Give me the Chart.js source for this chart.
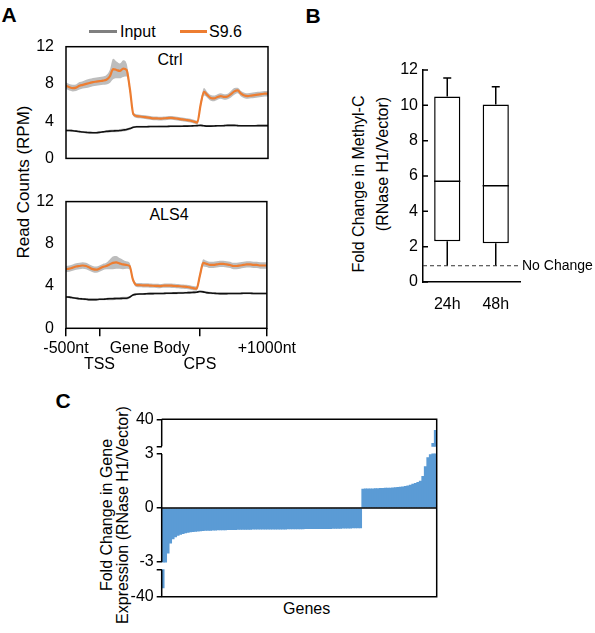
<!DOCTYPE html>
<html><head><meta charset="utf-8">
<script src="https://cdn.jsdelivr.net/npm/chart.js@4.4.1/dist/chart.umd.min.js"></script>
<style>
body{margin:0;width:595px;height:633px;background:#fff;position:relative;overflow:hidden;font-family:"Liberation Sans",Arial,sans-serif;color:#000}
canvas{position:absolute}
.t{position:absolute;white-space:nowrap;line-height:1;transform:translate(-50%,-50%)}
.l{position:absolute;white-space:nowrap;line-height:1;transform:translateY(-50%)}
.rot{position:absolute;white-space:nowrap;line-height:1;transform:translate(-50%,-50%) rotate(-90deg)}
.pl{position:absolute;font-weight:bold;font-size:21px;line-height:1;transform:translate(-50%,-50%)}
.lg{position:absolute;height:3px}
</style></head><body>

<div class="pl" style="left:9px;top:14px">A</div>
<div class="pl" style="left:313px;top:15px">B</div>
<div class="pl" style="left:63px;top:400px">C</div>

<div class="lg" style="left:89px;top:30px;width:28px;background:#808080"></div>
<div class="l" style="left:120px;top:31.5px;font-size:16px">Input</div>
<div class="lg" style="left:180px;top:30px;width:27px;background:#ED7D31"></div>
<div class="l" style="left:209px;top:31.5px;font-size:16px">S9.6</div>

<div class="t" style="left:170px;top:60px;font-size:16px">Ctrl</div>
<div class="t" style="left:169px;top:215px;font-size:16px">ALS4</div>
<div class="rot" style="left:23px;top:181.5px;font-size:17px">Read Counts (RPM)</div>

<div class="rot" style="left:359px;top:184px;font-size:16px">Fold Change in Methyl-C</div>
<div class="rot" style="left:382.5px;top:164px;font-size:16px">(RNase H1/Vector)</div>

<div class="rot" style="left:106.5px;top:515px;font-size:16px">Fold Change in Gene</div>
<div class="rot" style="left:122.5px;top:515px;font-size:16px">Expression (RNase H1/Vector)</div>
<div class="t" style="left:306.7px;top:609px;font-size:16px">Genes</div>

<canvas id="a1" width="300" height="180" style="left:0;top:0;width:300px;height:180px"></canvas>
<canvas id="a2" width="300" height="200" style="left:0;top:180px;width:300px;height:200px"></canvas>
<canvas id="b" width="305" height="330" style="left:290px;top:0;width:305px;height:330px"></canvas>
<canvas id="c" width="450" height="253" style="left:0;top:380px;width:450px;height:253px"></canvas>

<script>
// ---------- Panel A data (profile bins: -500nt .. TSS .. gene body .. CPS .. +1000nt) ----------
const A_TICK_POS = [0, 10, 25, 40, 60];
const A_TICK_LBL = ['-500nt', ['', 'TSS'], 'Gene Body', ['', 'CPS'], '+1000nt'];
const A_Y_TICKS = [0, 4, 8, 12];

const CTRL_S96 = [7.8,7.65,7.55,7.6,7.8,7.9,8.0,8.1,8.2,8.25,
  8.3,8.35,8.45,8.8,9.6,9.5,9.4,9.65,9.5,7.4,
  4.75,4.55,4.5,4.45,4.4,4.35,4.3,4.3,4.27,4.3,
  4.33,4.35,4.33,4.28,4.22,4.17,4.12,4.05,3.95,3.85,
  5.8,7.15,6.8,6.5,6.45,6.6,6.7,6.6,6.65,6.9,
  7.2,7.3,6.95,6.75,6.7,6.75,6.8,6.85,6.9,6.95,6.95];
const CTRL_S96_ERR = [.35,.35,.35,.35,.4,.4,.45,.45,.45,.45,
  .45,.45,.5,.7,1.1,.9,.8,.9,.7,.4,
  .2,.2,.2,.2,.2,.2,.2,.2,.2,.2,
  .2,.2,.2,.2,.2,.2,.2,.2,.2,.2,
  .35,.4,.3,.3,.3,.3,.3,.3,.3,.35,
  .35,.3,.3,.3,.3,.3,.3,.3,.3,.3,.3];
const CTRL_INPUT = [3.0,3.0,2.97,2.93,2.88,2.83,2.8,2.77,2.75,2.76,
  2.8,2.85,2.9,2.93,2.95,2.97,3.0,3.05,3.1,3.2,
  3.35,3.4,3.4,3.4,3.4,3.42,3.42,3.42,3.43,3.43,
  3.43,3.45,3.45,3.45,3.45,3.47,3.47,3.48,3.5,3.52,
  3.55,3.5,3.47,3.47,3.48,3.5,3.5,3.52,3.55,3.55,
  3.55,3.52,3.5,3.5,3.5,3.5,3.5,3.52,3.52,3.52,3.52];
const CTRL_INPUT_ERR = [.1,.1,.1,.1,.1,.1,.1,.1,.1,.1,
  .1,.1,.1,.15,.15,.15,.15,.15,.15,.12,
  .1,.1,.1,.1,.1,.1,.1,.1,.1,.1,
  .1,.1,.1,.1,.1,.1,.1,.1,.1,.1,
  .1,.1,.1,.1,.1,.1,.1,.1,.1,.1,
  .1,.1,.1,.1,.1,.1,.1,.1,.1,.1,.1];

const ALS4_S96 = [5.6,5.65,5.75,5.85,5.9,5.95,5.9,5.75,5.6,5.55,
  5.65,5.8,5.9,6.05,6.2,6.25,6.15,6.05,6.0,5.9,
  4.6,4.1,4.08,4.07,4.07,4.05,4.03,4.02,4.0,4.03,
  4.05,4.05,4.02,4.0,3.98,3.95,3.92,3.88,3.8,3.75,
  5.0,6.2,6.1,6.0,6.0,6.05,6.1,6.1,6.05,6.0,
  5.9,5.9,5.95,6.0,6.05,6.05,6.0,6.0,5.95,5.95,5.95];
const ALS4_S96_ERR = [.3,.3,.3,.3,.3,.3,.3,.3,.3,.3,
  .3,.3,.3,.45,.6,.6,.5,.45,.35,.3,
  .2,.2,.2,.2,.2,.2,.2,.2,.2,.2,
  .2,.2,.2,.2,.2,.2,.2,.2,.2,.2,
  .3,.35,.3,.3,.3,.3,.3,.3,.3,.3,
  .3,.3,.3,.3,.3,.3,.3,.3,.3,.3,.3];
const ALS4_INPUT = [2.97,2.95,2.9,2.85,2.8,2.78,2.75,2.72,2.72,2.72,
  2.75,2.75,2.78,2.8,2.8,2.82,2.82,2.85,2.85,2.95,
  3.15,3.22,3.25,3.25,3.27,3.28,3.28,3.3,3.3,3.3,
  3.32,3.32,3.33,3.33,3.35,3.35,3.37,3.38,3.4,3.42,
  3.48,3.45,3.38,3.35,3.32,3.3,3.28,3.28,3.28,3.3,
  3.3,3.3,3.3,3.32,3.32,3.32,3.3,3.3,3.3,3.3,3.3];
const ALS4_INPUT_ERR = [.1,.1,.1,.1,.1,.1,.1,.1,.1,.1,
  .1,.1,.1,.15,.15,.15,.15,.15,.15,.1,
  .1,.1,.1,.1,.1,.1,.1,.1,.1,.1,
  .1,.1,.1,.1,.1,.1,.1,.1,.1,.1,
  .1,.1,.1,.1,.1,.1,.1,.1,.1,.1,
  .1,.1,.1,.1,.1,.1,.1,.1,.1,.1,.1];

// ---------- Panel B data (box plot) ----------
const TIMES = ['24h', '48h'];
const B_MIN = [0.92, 0.92];
const B_Q1  = [2.3, 2.2];
const B_MED = [5.7, 5.45];
const B_Q3  = [10.5, 10.05];
const B_MAX = [11.55, 11.05];
const NO_CHANGE = 0.92;

// ---------- Panel C data (sorted fold change per gene) ----------
const FC = [-28,-3.0,-2.5,-1.95,-1.72,-1.6,-1.52,-1.46,-1.42,-1.38,
  -1.35,-1.33,-1.31,-1.3,-1.28,-1.27,-1.26,-1.25,-1.24,-1.24,
  -1.23,-1.23,-1.22,-1.22,-1.21,-1.21,-1.2,-1.2,-1.2,-1.2,
  -1.19,-1.19,-1.19,-1.19,-1.19,-1.19,-1.18,-1.18,-1.18,-1.18,
  -1.18,-1.18,-1.17,-1.17,-1.17,-1.17,-1.17,-1.17,-1.17,-1.17,
  -1.16,-1.16,-1.16,-1.16,-1.16,-1.16,-1.16,-1.15,-1.15,-1.15,
  -1.15,-1.15,-1.15,-1.14,-1.14,-1.14,-1.14,-1.14,-1.13,-1.13,
  -1.13,-1.13,-1.12,-1.12,-1.12,-1.12,-1.11,-1.11,-1.11,-1.1,
  1.05,1.06,1.06,1.07,1.07,1.08,1.08,1.09,1.09,1.1,
  1.1,1.11,1.12,1.13,1.14,1.16,1.18,1.2,1.23,1.27,
  1.32,1.37,1.42,1.5,1.75,2.3,2.8,2.97,7,25];
const C_LABEL_VALUES = [-40, -3, 0, 3, 40];

// broken-axis parameters
const CORE = 3, GAP = 0.42, OUTER = 1.5, OUTER_MAX = 40;
function tf(v){ const a = Math.abs(v); if (a <= CORE) return v;
  return Math.sign(v) * (CORE + GAP + (Math.min(a, OUTER_MAX) - CORE) / (OUTER_MAX - CORE) * OUTER); }

Chart.defaults.font.family = '"Liberation Sans", Arial, sans-serif';
Chart.defaults.font.size = 16;
Chart.defaults.color = '#000';
Chart.defaults.animation = false;

const ORANGE = '#ED7D31', BAND = '#bdbdbd', BAND_IN = '#c4c4c4', BLUE = '#5B9BD5';

const frame = { id: 'frame', afterDatasetsDraw(chart) {
  const {ctx, chartArea: a} = chart; ctx.save(); ctx.strokeStyle = '#000'; ctx.lineWidth = 1.5;
  ctx.strokeRect(a.left, a.top, a.right - a.left, a.bottom - a.top); ctx.restore(); } };

function pts(arr, err, sgn) { return arr.map((v, i) => ({x: i, y: err ? v + sgn * err[i] : v})); }

function profileConfig(s96, s96e, inp, inpe, showX, padTop, padBottom, xHeight) {
  const common = {pointRadius: 0, cubicInterpolationMode: 'monotone'};
  return {
    type: 'line',
    data: { datasets: [
      {...common, data: pts(s96), borderColor: ORANGE, borderWidth: 2.2, order: 0},
      {...common, data: pts(inp), borderColor: '#111', borderWidth: 1.6, order: 0},
      {...common, data: pts(s96, s96e, 1), borderWidth: 0, fill: '+1', backgroundColor: BAND, order: 1},
      {...common, data: pts(s96, s96e, -1), borderWidth: 0, fill: false, order: 1},
      {...common, data: pts(inp, inpe, 1), borderWidth: 0, fill: '+1', backgroundColor: BAND_IN, order: 1},
      {...common, data: pts(inp, inpe, -1), borderWidth: 0, fill: false, order: 1}
    ]},
    options: {
      responsive: false, devicePixelRatio: 1,
      layout: {padding: {top: padTop, right: 32, bottom: padBottom, left: 0}},
      plugins: {legend: {display: false}, tooltip: {enabled: false}},
      scales: {
        x: { type: 'linear', min: 0, max: CTRL_S96.length - 1, display: showX,
          afterBuildTicks: s => { s.ticks = A_TICK_POS.map(v => ({value: v})); },
          afterFit: s => { if (showX) s.height = xHeight; },
          ticks: { autoSkip: false, maxRotation: 0, padding: 4, font: {size: 16, lineHeight: 1},
            callback: (v, i) => A_TICK_LBL[A_TICK_POS.indexOf(v)] },
          grid: { drawOnChartArea: false, drawTicks: true, tickLength: 8, lineWidth: 1.5,
            color: c => (c.tick && c.tick.value === 25) ? 'rgba(0,0,0,0)' : '#000' },
          border: {display: false} },
        y: { min: 0, max: 12,
          afterBuildTicks: s => { s.ticks = A_Y_TICKS.map(v => ({value: v})); },
          afterFit: s => { s.width = 66; },
          ticks: { padding: 12, font: {size: 16} },
          grid: { display: false, drawTicks: false }, border: {display: false} }
      }
    },
    plugins: [frame]
  };
}

new Chart(document.getElementById('a1'), profileConfig(CTRL_S96, CTRL_S96_ERR, CTRL_INPUT, CTRL_INPUT_ERR, false, 46.7, 5, 0));
new Chart(document.getElementById('a2'), profileConfig(ALS4_S96, ALS4_S96_ERR, ALS4_INPUT, ALS4_INPUT_ERR, true, 20.7, 0, 51.7));

// ---------- Panel B ----------
const boxPlugin = { id: 'box', afterDatasetsDraw(chart) {
  const {ctx, chartArea: a, scales: {y}} = chart; const meta = chart.getDatasetMeta(0);
  ctx.save(); ctx.strokeStyle = '#000'; ctx.lineWidth = 1.5; ctx.beginPath();
  meta.data.forEach((bar, i) => {
    const x = bar.x, hw = bar.width / 2;
    ctx.moveTo(x, y.getPixelForValue(B_Q3[i])); ctx.lineTo(x, y.getPixelForValue(B_MAX[i]));
    ctx.moveTo(x - 4, y.getPixelForValue(B_MAX[i])); ctx.lineTo(x + 4, y.getPixelForValue(B_MAX[i]));
    ctx.moveTo(x, y.getPixelForValue(B_Q1[i])); ctx.lineTo(x, y.getPixelForValue(B_MIN[i]));
    ctx.moveTo(x - hw, y.getPixelForValue(B_MED[i])); ctx.lineTo(x + hw, y.getPixelForValue(B_MED[i]));
  });
  y.ticks.forEach(t => { const py = y.getPixelForValue(t.value); ctx.moveTo(a.left, py); ctx.lineTo(a.left + 5, py); });
  ctx.stroke();
  const yn = y.getPixelForValue(NO_CHANGE);
  ctx.lineWidth = 1; ctx.strokeStyle = '#333'; ctx.setLineDash([4, 3]);
  ctx.beginPath(); ctx.moveTo(a.left, yn); ctx.lineTo(a.right, yn); ctx.stroke();
  ctx.setLineDash([]); ctx.fillStyle = '#000'; ctx.font = '14px "Liberation Sans", Arial, sans-serif';
  ctx.textBaseline = 'middle'; ctx.textAlign = 'left'; ctx.fillText('No Change', a.right + 2, yn);
  ctx.restore(); } };

new Chart(document.getElementById('b'), {
  type: 'bar',
  data: { labels: TIMES, datasets: [{ data: B_Q1.map((q, i) => [q, B_Q3[i]]), backgroundColor: '#fff',
    borderColor: '#000', borderWidth: 1.5, borderSkipped: false, barPercentage: 0.54, categoryPercentage: 1 }] },
  options: {
    responsive: false, devicePixelRatio: 1,
    layout: {padding: {top: 70, right: 75, bottom: 0, left: 0}},
    plugins: {legend: {display: false}, tooltip: {enabled: false}},
    scales: {
      x: { afterFit: s => { s.height = 48; }, ticks: {padding: 15, font: {size: 16, lineHeight: 1}},
        grid: {display: false, drawTicks: false}, border: {display: true, color: '#000', width: 1.5} },
      y: { min: 0, max: 12, ticks: {stepSize: 2, padding: 5, font: {size: 16}},
        afterFit: s => { s.width = 133; },
        grid: {display: false, drawTicks: false}, border: {display: true, color: '#000', width: 1.5} }
    }
  },
  plugins: [boxPlugin]
});

// ---------- Panel C ----------
const cTicks = [tf(-40), -(CORE + GAP), tf(-3), 0, tf(3), CORE + GAP, tf(40)];
const cFrame = { id: 'cframe', afterDatasetsDraw(chart) {
  const {ctx, chartArea: a, scales: {y}} = chart;
  ctx.save(); ctx.strokeStyle = '#000'; ctx.lineWidth = 1.5; ctx.beginPath();
  const yz = y.getPixelForValue(0);
  ctx.moveTo(a.left, yz); ctx.lineTo(a.right, yz);
  ctx.moveTo(a.left, a.top); ctx.lineTo(a.right, a.top); ctx.lineTo(a.right, a.bottom); ctx.lineTo(a.left, a.bottom);
  ctx.moveTo(a.left, a.top); ctx.lineTo(a.left, y.getPixelForValue(CORE + GAP));
  ctx.moveTo(a.left, y.getPixelForValue(CORE)); ctx.lineTo(a.left, y.getPixelForValue(-CORE));
  ctx.moveTo(a.left, y.getPixelForValue(-(CORE + GAP))); ctx.lineTo(a.left, a.bottom);
  ctx.stroke(); ctx.restore(); } };

new Chart(document.getElementById('c'), {
  type: 'bar',
  data: { labels: FC.map((_, i) => i), datasets: [
    { data: FC.map(v => Math.max(-CORE, Math.min(CORE, v))), backgroundColor: BLUE, borderWidth: 0,
      barPercentage: 1, categoryPercentage: 1, grouped: false },
    { data: FC.map(v => Math.abs(v) > CORE ? [Math.sign(v) * (CORE + GAP), tf(v)] : null), backgroundColor: BLUE,
      borderWidth: 0, barPercentage: 1, categoryPercentage: 1, grouped: false }
  ]},
  options: {
    responsive: false, devicePixelRatio: 1,
    layout: {padding: {top: 39.3, right: 13.3, bottom: 36.3, left: 0}},
    plugins: {legend: {display: false}, tooltip: {enabled: false}},
    scales: {
      x: { display: false },
      y: { min: tf(-40), max: tf(40),
        afterBuildTicks: s => { s.ticks = cTicks.map(v => ({value: v})); },
        afterFit: s => { s.width = 161.7; },
        ticks: { padding: 3, font: {size: 16}, autoSkip: false,
          callback: v => { const k = C_LABEL_VALUES.findIndex(l => Math.abs(tf(l) - v) < 1e-6); return k >= 0 ? String(C_LABEL_VALUES[k]) : ''; } },
        grid: { drawOnChartArea: false, drawTicks: true, tickLength: 5, color: '#000', lineWidth: 1.5 },
        border: {display: false} }
    }
  },
  plugins: [cFrame]
});
</script>
</body></html>
